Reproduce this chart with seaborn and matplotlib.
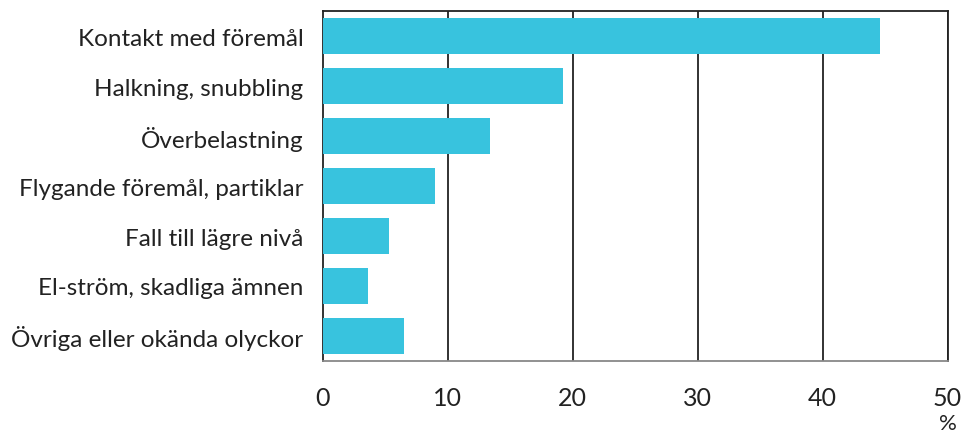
import numpy as np
import pandas as pd
import matplotlib
matplotlib.use("Agg")
import matplotlib.pyplot as plt
import seaborn as sns

categories = [
    "Kontakt med föremål",
    "Halkning, snubbling",
    "Överbelastning",
    "Flygande föremål, partiklar",
    "Fall till lägre nivå",
    "El-ström, skadliga ämnen",
    "Övriga eller okända olyckor",
]
values = [44.6, 19.2, 13.4, 9.0, 5.3, 3.6, 6.5]
x_ticks = [0, 10, 20, 30, 40, 50]

sns.set_style("white")
plt.rcParams["font.family"] = ["Lato", "DejaVu Sans"]

df = pd.DataFrame({"cat": categories, "val": values})

fig = plt.figure(figsize=(9.64, 4.35), dpi=100)
ax = fig.add_axes([0.335, 0.168, 0.648, 0.804])

sns.barplot(data=df, x="val", y="cat", color="#38C3DE", saturation=1,
            width=0.72, linewidth=0, ax=ax, zorder=3)

ax.set_xlim(0, 50)
ax.set_ylim(len(categories) - 0.5, -0.5)
ax.set_xticks(x_ticks)
ax.set_xticklabels([str(t) for t in x_ticks], fontsize=18, color="#222222")
ax.tick_params(axis="x", length=10, width=1.2, color="#222222", pad=8)
ax.set_yticks(np.arange(len(categories)))
ax.set_yticklabels(categories, fontsize=17.5, color="#222222")
ax.tick_params(axis="y", which="major", length=0, pad=14)
ax.set_yticks(np.arange(len(categories) + 1) - 0.5, minor=True)
ax.tick_params(axis="y", which="minor", length=14, width=1.2,
               direction="inout", color="#333333")

for t in x_ticks[1:]:
    ax.axvline(t, color="#222222", lw=1.3, zorder=2)

ax.set_xlabel("")
ax.set_ylabel("")
for side in ["top", "right", "left"]:
    ax.spines[side].set_color("#222222")
    ax.spines[side].set_linewidth(1.3)
ax.spines["bottom"].set_color("#888888")
ax.spines["bottom"].set_linewidth(1.3)

ax.text(50, -0.148, "%", transform=ax.get_xaxis_transform(), ha="center",
        va="top", fontsize=16, color="#222222")

fig.savefig("out.png", dpi=100)
